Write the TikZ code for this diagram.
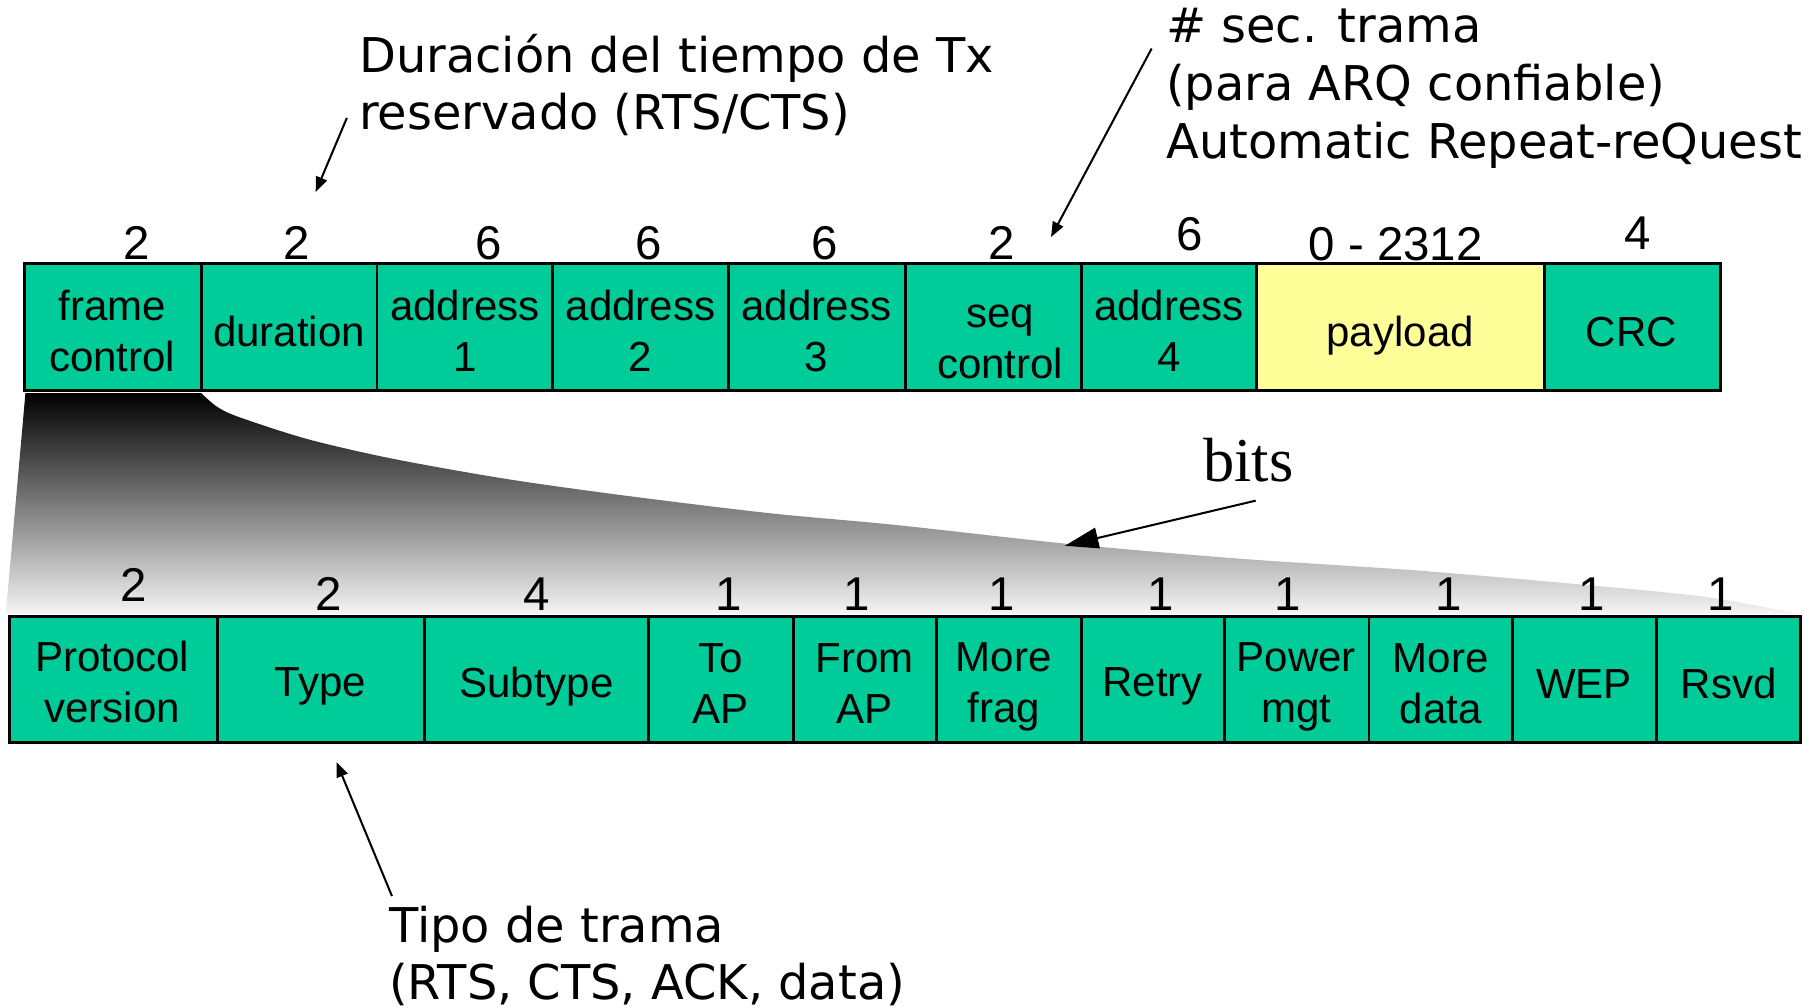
\documentclass[tikz,border=0pt]{standalone}
\usepackage{fontspec}
\setmainfont{Liberation Sans}
\newfontfamily\annfont{DejaVu Sans}
\newfontfamily\bitsfont{Liberation Serif}
\usetikzlibrary{arrows.meta}
\definecolor{fieldgreen}{RGB}{0,204,153}
\definecolor{fieldyellow}{RGB}{255,255,153}
\begin{document}
\begin{tikzpicture}[x=0.1mm,y=-0.1mm,
  field/.style={draw=black, line width=0.7pt, fill=fieldgreen, inner sep=0pt,
    minimum height=11mm},
  bitfield/.style={field, minimum height=10.9mm},
  lbl/.style={align=center, inner sep=0pt, font=\fontsize{10.34}{12.52}\selectfont},
  num/.style={anchor=base, inner sep=0pt, font=\fontsize{11.67}{14}\selectfont},
  ann/.style={anchor=base west, inner sep=0pt, font=\annfont\fontsize{11.78}{14}\selectfont},
  pointer/.style={line width=0.5pt, -{Triangle[length=1.3mm,width=1.0mm]}},
  bigpointer/.style={line width=0.5pt, -{Triangle[length=2.9mm,width=1.8mm]}},
]
\useasboundingbox (0,0) rectangle (1568,871);

% zoom funnel
\shade[top color=black, bottom color=white!96!black]
  (22,340) -- plot[smooth, tension=0.5] coordinates {(174,340) (188,352) (207.5,361) (266.8,380)
  (340.9,397) (439.7,414.5) (543.4,429) (667,444) (774.5,454) (924.9,470.5) (1075,483.4)
  (1225.6,493.4) (1376,506.3) (1476,516.4) (1557,531)} -- (5,531) -- cycle;

% top frame fields
\node[field, minimum width=15.3mm] (fc)  at (97.5,283)  {};
\node[field, minimum width=15.2mm] (dur) at (250,283)   {};
\node[field, minimum width=15.2mm] (a1)  at (402,283)   {};
\node[field, minimum width=15.2mm] (a2)  at (554,283)   {};
\node[field, minimum width=15.3mm] (a3)  at (706.5,283) {};
\node[field, minimum width=15.2mm] (seq) at (859,283)   {};
\node[field, minimum width=15.2mm] (a4)  at (1011,283)  {};
\node[field, minimum width=24.9mm, fill=fieldyellow] (pay) at (1211.5,283) {};
\node[field, minimum width=15.2mm] (crc) at (1412,283)  {};

\node[lbl] (fct)  at (97,286)   {frame\\control};
\node[lbl] (durt) at (250,287)  {duration};
\node[lbl] (a1t)  at (402,286)  {address\\1};
\node[lbl] (a2t)  at (554,286)  {address\\2};
\node[lbl] (a3t)  at (706,286)  {address\\3};
\node[lbl] (seqt) at (865,296)  {seq\\control};
\node[lbl] (a4t)  at (1011,286) {address\\4};
\node[lbl] (payt) at (1211,290) {payload};
\node[lbl] (crct) at (1411,287) {CRC};

% top sizes (bytes)
\node[num] (n1) at (118,224)  {2};
\node[num] (n2) at (257,224)  {2};
\node[num] (n3) at (423,224)  {6};
\node[num] (n4) at (561,224)  {6};
\node[num] (n5) at (713,224)  {6};
\node[num] (n6) at (866,224)  {2};
\node[num] (n7) at (1029,217) {6};
\node[num] (n8) at (1207,225) {0 - 2312};
\node[num] (n9) at (1416,216) {4};

% frame control bit fields
\node[bitfield, minimum width=18.0mm] (pv)   at (98,587.5)     {};
\node[bitfield, minimum width=17.9mm] (ty)   at (277.5,587.5)  {};
\node[bitfield, minimum width=19.4mm] (st)   at (464,587.5)    {};
\node[bitfield, minimum width=12.5mm] (toap) at (623.5,587.5)  {};
\node[bitfield, minimum width=12.4mm] (frap) at (748,587.5)    {};
\node[bitfield, minimum width=12.5mm] (mf)   at (872.5,587.5)  {};
\node[bitfield, minimum width=12.4mm] (re)   at (997,587.5)    {};
\node[bitfield, minimum width=12.5mm] (pm)   at (1121.5,587.5) {};
\node[bitfield, minimum width=12.4mm] (md)   at (1246,587.5)   {};
\node[bitfield, minimum width=12.5mm] (wep)  at (1370.5,587.5) {};
\node[bitfield, minimum width=12.4mm] (rs)   at (1495,587.5)   {};

\node[lbl] (pvt)   at (97,590)   {Protocol\\version};
\node[lbl] (tyt)   at (277,594)  {Type};
\node[lbl] (stt)   at (464,594)  {Subtype};
\node[lbl] (toapt) at (623,591)  {To\\AP};
\node[lbl] (frapt) at (748,591)  {From\\AP};
\node[lbl] (mft)   at (868,594)  {More\\frag};
\node[lbl] (ret)   at (997,594)  {Retry};
\node[lbl] (pmt)   at (1121,594) {Power\\mgt};
\node[lbl] (mdt)   at (1246,591) {More\\data};
\node[lbl] (wept)  at (1370,592) {WEP};
\node[lbl] (rst)   at (1495,591) {Rsvd};

% bit sizes
\node[num] (b1)  at (116,520)  {2};
\node[num] (b2)  at (284,528)  {2};
\node[num] (b3)  at (464,528)  {4};
\node[num] (b4)  at (630,528)  {1};
\node[num] (b5)  at (741,528)  {1};
\node[num] (b6)  at (866,528)  {1};
\node[num] (b7)  at (1004,528) {1};
\node[num] (b8)  at (1114,528) {1};
\node[num] (b9)  at (1253,528) {1};
\node[num] (b10) at (1377,528) {1};
\node[num] (b11) at (1488,528) {1};

% annotations
\node[ann] (durA) at (310,63)  {Duración del tiempo de Tx};
\node[ann] (durB) at (310,112) {reservado (RTS/CTS)};
\coordinate (durS) at (300,102);
\coordinate (durE) at (273,166);
\draw[pointer] (durS) -- (durE);

\node[ann] (secA) at (1008,37)  {\# sec. trama};
\node[ann] (secB) at (1008,87)  {(para ARQ confiable)};
\node[ann] (secC) at (1008,137) {Automatic Repeat-reQuest};
\coordinate (secS) at (996,42);
\coordinate (secE) at (909,205);
\draw[pointer] (secS) -- (secE);

\node[anchor=base west, inner sep=0pt, font=\bitsfont\fontsize{15.36}{18}\selectfont] (bits) at (1040,416) {bits};
\coordinate (bitsS) at (1086,433);
\coordinate (bitsE) at (921,472);
\draw[bigpointer] (bitsS) -- (bitsE);

\node[ann] (tipA) at (336,815) {Tipo de trama};
\node[ann] (tipB) at (336,864) {(RTS, CTS, ACK, data)};
\coordinate (tipS) at (339,775);
\coordinate (tipE) at (291,659);
\draw[pointer] (tipS) -- (tipE);
\end{tikzpicture}
\end{document}
